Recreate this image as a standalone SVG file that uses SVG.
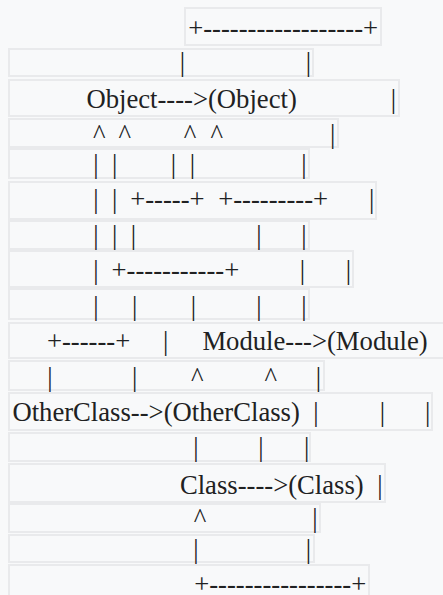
<svg xmlns="http://www.w3.org/2000/svg" width="443" height="595" viewBox="0 0 443 595">
<style>
.bg{fill:#f8f9fa}
.b{fill:#f8f9fa;stroke:#e9eaec;stroke-width:2}
.t{font-family:"Liberation Serif","Times New Roman",serif;font-size:26.67px;fill:#202122}
.m{text-anchor:middle}
</style>
<rect class="bg" x="0" y="0" width="443" height="595"/>
<g id="line1"><rect class="b" x="185" y="8" width="196" height="37"/><text class="t" x="188.2" y="37.4">+------------------+</text></g>
<g id="line2"><rect class="b" x="9" y="49" width="304" height="27"/><text class="t m" y="71.4"><tspan x="182.3">|</tspan><tspan x="308.3">|</tspan></text></g>
<g id="line3"><rect class="b" x="9" y="80" width="390" height="36"/><text class="t" y="108"><tspan x="86.4">Object----&gt;(Object)</tspan><tspan class="m" x="393.3">|</tspan></text></g>
<g id="line4"><rect class="b" x="9" y="119" width="329" height="28"/><text class="t m" y="143.4"><tspan x="99.3">^</tspan><tspan x="124.7">^</tspan><tspan x="190">^</tspan><tspan x="216.7">^</tspan><tspan x="332.7">|</tspan></text></g>
<g id="line5"><rect class="b" x="9" y="149" width="300" height="29"/><text class="t m" y="173.4"><tspan x="96">|</tspan><tspan x="114.7">|</tspan><tspan x="173.3">|</tspan><tspan x="192.3">|</tspan><tspan x="304">|</tspan></text></g>
<g id="line6"><rect class="b" x="9" y="182" width="367" height="37"/><text class="t" y="208.4"><tspan class="m" x="96">|</tspan><tspan class="m" x="114.7">|</tspan><tspan x="130.2">+-----+</tspan><tspan x="218.2">+---------+</tspan><tspan class="m" x="371.7">|</tspan></text></g>
<g id="line7"><rect class="b" x="9" y="221" width="300" height="28"/><text class="t m" y="244.4"><tspan x="96">|</tspan><tspan x="114.7">|</tspan><tspan x="133.3">|</tspan><tspan x="259">|</tspan><tspan x="304">|</tspan></text></g>
<g id="line8"><rect class="b" x="9" y="251" width="344" height="36"/><text class="t" y="279"><tspan class="m" x="96">|</tspan><tspan x="111.5">+-----------+</tspan><tspan class="m" x="302.3">|</tspan><tspan class="m" x="348.3">|</tspan></text></g>
<g id="line9"><rect class="b" x="9" y="289" width="300" height="30"/><text class="t m" y="315"><tspan x="96">|</tspan><tspan x="134.7">|</tspan><tspan x="193.3">|</tspan><tspan x="259">|</tspan><tspan x="304">|</tspan></text></g>
<g id="line10"><rect class="b" x="9" y="323" width="460" height="35"/><text class="t" y="350"><tspan x="46.9">+------+</tspan><tspan class="m" x="165.7">|</tspan><tspan x="202.4">Module---&gt;(Module)</tspan></text></g>
<g id="line11"><rect class="b" x="9" y="361" width="315" height="29"/><text class="t m" y="386.4"><tspan x="50">|</tspan><tspan x="134.7">|</tspan><tspan x="197.3">^</tspan><tspan x="270.7">^</tspan><tspan x="318.3">|</tspan></text></g>
<g id="line12"><rect class="b" x="9" y="393" width="423" height="37"/><text class="t" y="421"><tspan x="12.4">OtherClass--&gt;(OtherClass)</tspan><tspan class="m" x="316">|</tspan><tspan class="m" x="382.3">|</tspan><tspan class="m" x="427.7">|</tspan></text></g>
<g id="line13"><rect class="b" x="9" y="433" width="301" height="28"/><text class="t m" y="456.4"><tspan x="196">|</tspan><tspan x="261">|</tspan><tspan x="306.7">|</tspan></text></g>
<g id="line14"><rect class="b" x="9" y="464" width="376" height="38"/><text class="t" y="493.5"><tspan x="179.9">Class----&gt;(Class)</tspan><tspan class="m" x="380">|</tspan></text></g>
<g id="line15"><rect class="b" x="9" y="504" width="311" height="28"/><text class="t m" y="527"><tspan x="200">^</tspan><tspan x="315">|</tspan></text></g>
<g id="line16"><rect class="b" x="9" y="535" width="305" height="27"/><text class="t m" y="558.4"><tspan x="196">|</tspan><tspan x="308.3">|</tspan></text></g>
<g id="line17"><rect class="b" x="9" y="565" width="360" height="40"/><text class="t" y="593.4"><tspan x="194.2">+----------------+</tspan></text></g>
</svg>
